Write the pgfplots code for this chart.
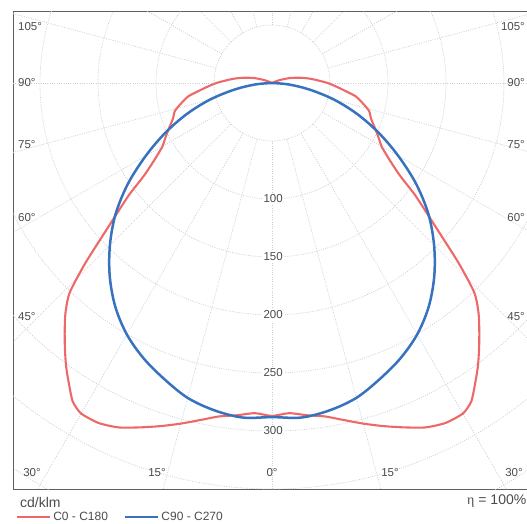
\documentclass[border=0pt]{standalone}
\usepackage{pgfplots}
\usepackage{pgfplotstable}
\pgfplotsset{compat=1.18}
\usepackage{fontspec}
\setmainfont{Liberation Sans}
\newfontfamily\seriffont{Liberation Serif}
\definecolor{cred}{RGB}{238,104,104}
\definecolor{cblue}{RGB}{56,114,190}
\definecolor{gridc}{RGB}{203,208,214}
\definecolor{txt}{RGB}{75,75,75}
\definecolor{framec}{RGB}{95,95,95}

\pgfplotstableread{
g r
-118 0
-114 3
-110 8
-106 15
-102 22
-98 30
-94 38
-90 48
-87 55
-84 63
-81 73
-78 79
-74 87
-70 91
-66 97.5
-63 103
-60 109
-58 116
-56 125
-54 137
-52 156
-50 174
-48 196
-46 224
-44 251
-42 266
-40 278
-38 290
-36 302
-34 313
-32 324
-30 329
-27 329
-24 325
-21 318
-18 311
-15 304
-12 297
-9 291
-6 288
-3 285
0 287
3 285
6 288
9 291
12 297
15 304
18 311
21 318
24 325
27 329
30 329
32 324
34 313
36 302
38 290
40 278
42 266
44 251
46 224
48 196
50 174
52 156
54 137
56 125
58 116
60 109
63 103
66 97.5
70 91
74 87
78 79
81 73
84 63
87 55
90 48
94 38
98 30
102 22
106 15
110 8
114 3
118 0
}\redtab

\pgfplotstableread{
g r
-90 0
-85 14.6
-80 33.1
-75 55.4
-70 78.1
-65 101.4
-60 125.7
-55 151.7
-50 176.1
-45 197.6
-40 217.6
-35 235.5
-30 250.3
-25 261.9
-20 271.6
-15 281
-10 286.5
-5 289.5
0 288
5 289.5
10 286.5
15 281
20 271.6
25 261.9
30 250.3
35 235.5
40 217.6
45 197.6
50 176.1
55 151.7
60 125.7
65 101.4
70 78.1
75 55.4
80 33.1
85 14.6
90 0
}\bluetab

\begin{document}
\begin{tikzpicture}[
  gridline/.style={draw=gridc, line width=0.7pt, dash pattern=on 1pt off 1.3pt},
  lab/.style={font=\fontsize{11.5}{13}\selectfont, text=txt, inner sep=0pt},
]
\begin{axis}[
  at={(0pt,0pt)}, anchor=south west,
  scale only axis, width=518pt, height=477pt,
  xmin=-223.28, xmax=223.28, ymin=-350, ymax=61.21,
  axis line style={draw=framec, line width=1pt},
  xtick=\empty, ytick=\empty,
  clip=true,
  legend columns=2,
  legend style={at={(axis description cs:0,0)}, anchor=west, xshift=0pt, yshift=-28pt,
    draw=none, fill=none, font=\fontsize{12}{14}\selectfont, text=txt,
    /tikz/every even column/.append style={column sep=14pt}},
  legend image code/.code={\draw[#1] (0pt,0pt) -- (33pt,0pt);},
]
\pgfplotsinvokeforeach{50,100,150,200,250,300,350,400}{
  \draw[gridline] (axis cs:0,0) circle [radius=#1];
}
\pgfplotsinvokeforeach{0,15,...,345}{
  \draw[gridline] (axis cs:{50*sin(#1)},{-50*cos(#1)}) -- (axis cs:{700*sin(#1)},{-700*cos(#1)});
}
\pgfplotsinvokeforeach{100,150,200,250,300}{
  \node[lab, fill=white, inner sep=1.5pt] at (axis cs:1,-#1) {#1};
}
\addplot[cred, line width=2.1pt, smooth, tension=0.4]
  table[x expr={\thisrow{r}*sin(\thisrow{g})}, y expr={-\thisrow{r}*cos(\thisrow{g})}] {\redtab};
\addlegendentry{C0 - C180}
\addplot[cblue, line width=2.5pt, smooth, tension=0.55]
  table[x expr={\thisrow{r}*sin(\thisrow{g})}, y expr={-\thisrow{r}*cos(\thisrow{g})}] {\bluetab};
\addlegendentry{C90 - C270}
\end{axis}
% angle labels
\foreach \t/\yy in {105°/462, 90°/406, 75°/344, 60°/271, 45°/172}{
  \node[lab, anchor=west] at (5pt,\yy pt) {\t};
  \node[lab, anchor=east] at (512pt,\yy pt) {\t};
}
\foreach \t/\xx in {30°/19, 15°/144, 0°/259, 15°/377, 30°/501}{
  \node[lab] at (\xx pt,16pt) {\t};
}
\node[anchor=west, font=\fontsize{14}{16}\selectfont, text=txt, inner sep=0pt] at (7pt,-13pt) {cd/klm};
\node[anchor=east, font=\fontsize{14}{16}\selectfont, text=txt, inner sep=0pt] at (513.5pt,-12pt) {{\seriffont η} = 100\%};
\pgfresetboundingbox
\useasboundingbox (-13pt,-34pt) rectangle (514pt,489pt);
\end{tikzpicture}
\end{document}
